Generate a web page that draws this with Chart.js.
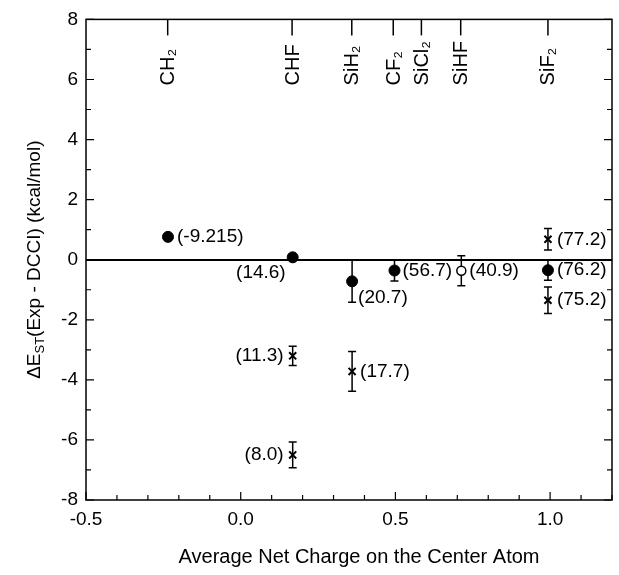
<!DOCTYPE html>
<html>
<head>
<meta charset="utf-8">
<script src="https://cdn.jsdelivr.net/npm/chart.js@4/dist/chart.umd.min.js"></script>
<style>
  html, body { margin: 0; padding: 0; background: #fff; }
  #wrap { width: 619px; height: 575px; }
</style>
</head>
<body>
<div id="wrap"><canvas id="chart"></canvas></div>
<script>
// filled circles
const filledX = [-0.235, 0.168, 0.36, 0.497, 0.993];
const filledY = [0.76, 0.08, -0.72, -0.36, -0.35];
const filledErr = [0, 0.1, 0.7, 0.35, 0.33];
const filledText = ["(-9.215)", "(14.6)", "(20.7)", "(56.7)", "(76.2)"];

// crosses
const crossX = [0.168, 0.168, 0.36, 0.993, 0.993];
const crossY = [-3.2, -6.5, -3.72, 0.68, -1.35];
const crossErr = [0.32, 0.43, 0.66, 0.36, 0.44];
const crossText = ["(11.3)", "(8.0)", "(17.7)", "(77.2)", "(75.2)"];

// open circle
const openX = [0.713];
const openY = [-0.37];
const openErr = [0.5];
const openText = ["(40.9)"];

// molecules on the top axis
const molNames = ["CH\u2082", "CHF", "SiH\u2082", "CF\u2082", "SiCl\u2082", "SiHF", "SiF\u2082"];
const molPos = [-0.236, 0.166, 0.359, 0.493, 0.584, 0.711, 0.993];

const xMajor = [-0.5, 0.0, 0.5, 1.0];
const yMajor = [-8, -6, -4, -2, 0, 2, 4, 6, 8];

const FONT = "'Liberation Sans', Arial, Helvetica, sans-serif";

// label placement: [dx, dy, align]
const filledPlace = [[9, 0, "left"], [-7, 15, "right"], [6, 16, "left"], [8, 0, "left"], [9, 0, "left"]];
const crossPlace = [[-9, 0, "right"], [-9, 0, "right"], [8, 0, "left"], [9, 0, "left"], [9, 0, "left"]];
const openPlace = [[8, 0, "left"]];

function pts(xs, ys) {
  return xs.map((x, i) => ({ x: x, y: ys[i] }));
}

const decor = {
  id: "decor",
  beforeDatasetsDraw(chart) {
    const ctx = chart.ctx;
    const xs = chart.scales.x, ys = chart.scales.y;
    ctx.save();
    ctx.strokeStyle = "#000";
    ctx.lineWidth = 1.5;
    chart.data.datasets.forEach((ds) => {
      ds.data.forEach((p, i) => {
        const e = ds.errs[i];
        if (!e) return;
        const px = xs.getPixelForValue(p.x);
        const y1 = ys.getPixelForValue(p.y + e);
        const y2 = ys.getPixelForValue(p.y - e);
        ctx.beginPath();
        ctx.moveTo(px, y1); ctx.lineTo(px, y2);
        ctx.moveTo(px - 4, y1); ctx.lineTo(px + 4, y1);
        ctx.moveTo(px - 4, y2); ctx.lineTo(px + 4, y2);
        ctx.stroke();
      });
    });
    ctx.restore();
  },
  afterDraw(chart) {
    const ctx = chart.ctx;
    const a = chart.chartArea;
    const xs = chart.scales.x, ys = chart.scales.y;
    ctx.save();
    ctx.strokeStyle = "#000";
    ctx.fillStyle = "#000";

    // frame
    ctx.lineWidth = 1.5;
    ctx.strokeRect(a.left, a.top, a.right - a.left, a.bottom - a.top);

    // inward ticks
    ctx.lineWidth = 1.2;
    ctx.beginPath();
    for (let i = -5; i <= 12; i++) {
      const px = xs.getPixelForValue(i / 10);
      const len = i % 5 === 0 ? 8 : 5;
      ctx.moveTo(px, a.bottom); ctx.lineTo(px, a.bottom - len);
    }
    for (let v = -8; v <= 8; v++) {
      const py = ys.getPixelForValue(v);
      const len = v % 2 === 0 ? 8 : 5;
      ctx.moveTo(a.left, py); ctx.lineTo(a.left + len, py);
      ctx.moveTo(a.right, py); ctx.lineTo(a.right - len, py);
    }
    ctx.stroke();

    // molecule ticks and names
    ctx.lineWidth = 1.5;
    ctx.font = "20px " + FONT;
    molPos.forEach((v, i) => {
      const px = xs.getPixelForValue(v);
      ctx.beginPath();
      ctx.moveTo(px, a.top); ctx.lineTo(px, a.top + 16);
      ctx.stroke();
      ctx.save();
      ctx.translate(px, a.top + 66);
      ctx.rotate(-Math.PI / 2);
      ctx.textAlign = "left";
      ctx.textBaseline = "middle";
      ctx.fillText(molNames[i], 0, 1);
      ctx.restore();
    });

    // point labels
    ctx.font = "19px " + FONT;
    ctx.textBaseline = "middle";
    chart.data.datasets.forEach((ds) => {
      ds.data.forEach((p, i) => {
        const pl = ds.place[i];
        ctx.textAlign = pl[2];
        ctx.fillText(ds.texts[i], xs.getPixelForValue(p.x) + pl[0], ys.getPixelForValue(p.y) + pl[1]);
      });
    });

    // axis titles
    ctx.textAlign = "center";
    ctx.textBaseline = "middle";
    ctx.font = "20px " + FONT;
    ctx.fillText("Average Net Charge on the Center Atom", (a.left + a.right) / 2 + 10, 557);

    ctx.save();
    ctx.translate(35, (a.top + a.bottom) / 2);
    ctx.rotate(-Math.PI / 2);
    const big = "19px " + FONT, small = "13px " + FONT;
    ctx.font = big;
    const w1 = ctx.measureText("\u0394E").width;
    const w3 = ctx.measureText("(Exp - DCCI) (kcal/mol)").width;
    ctx.font = small;
    const w2 = ctx.measureText("ST").width;
    let x0 = -(w1 + w2 + w3) / 2;
    ctx.textAlign = "left";
    ctx.font = big;
    ctx.fillText("\u0394E", x0, 0);
    ctx.font = small;
    ctx.fillText("ST", x0 + w1, 5);
    ctx.font = big;
    ctx.fillText("(Exp - DCCI) (kcal/mol)", x0 + w1 + w2, 0);
    ctx.restore();

    ctx.restore();
  },
};

new Chart(document.getElementById("chart").getContext("2d"), {
  type: "scatter",
  data: {
    datasets: [
      {
        label: "filled",
        data: pts(filledX, filledY),
        errs: filledErr, texts: filledText, place: filledPlace,
        pointStyle: "circle", pointRadius: 5.5,
        backgroundColor: "#000", borderColor: "#000", borderWidth: 1,
      },
      {
        label: "cross",
        data: pts(crossX, crossY),
        errs: crossErr, texts: crossText, place: crossPlace,
        pointStyle: "crossRot", pointRadius: 5,
        backgroundColor: "#000", borderColor: "#000", borderWidth: 2,
      },
      {
        label: "open",
        data: pts(openX, openY),
        errs: openErr, texts: openText, place: openPlace,
        pointStyle: "circle", pointRadius: 4.5,
        backgroundColor: "#fff", borderColor: "#000", borderWidth: 1.5,
      },
    ],
  },
  options: {
    responsive: true,
    maintainAspectRatio: false,
    animation: false,
    layout: { padding: { top: 17, right: 4, left: 0, bottom: 0 } },
    plugins: {
      legend: { display: false },
      tooltip: { enabled: false },
    },
    scales: {
      x: {
        type: "linear",
        min: -0.5,
        max: 1.2,
        grid: { display: false, drawTicks: false },
        border: { display: false },
        afterBuildTicks: (s) => { s.ticks = xMajor.map((v) => ({ value: v })); },
        afterFit: (s) => { s.height = 75; },
        ticks: {
          color: "#000",
          padding: 8,
          maxRotation: 0,
          font: { family: FONT, size: 19 },
          callback: (v) => Number(v).toFixed(1),
        },
      },
      y: {
        type: "linear",
        min: -8,
        max: 8,
        grid: {
          drawTicks: false,
          lineWidth: 2,
          color: (c) => (c.tick && c.tick.value === 0 ? "#000" : "rgba(0,0,0,0)"),
        },
        border: { display: false },
        afterBuildTicks: (s) => { s.ticks = yMajor.map((v) => ({ value: v })); },
        afterFit: (s) => { s.width = 86; },
        ticks: {
          color: "#000",
          padding: 8,
          font: { family: FONT, size: 19 },
          callback: (v) => String(v),
        },
      },
    },
  },
  plugins: [decor],
});
</script>
</body>
</html>
